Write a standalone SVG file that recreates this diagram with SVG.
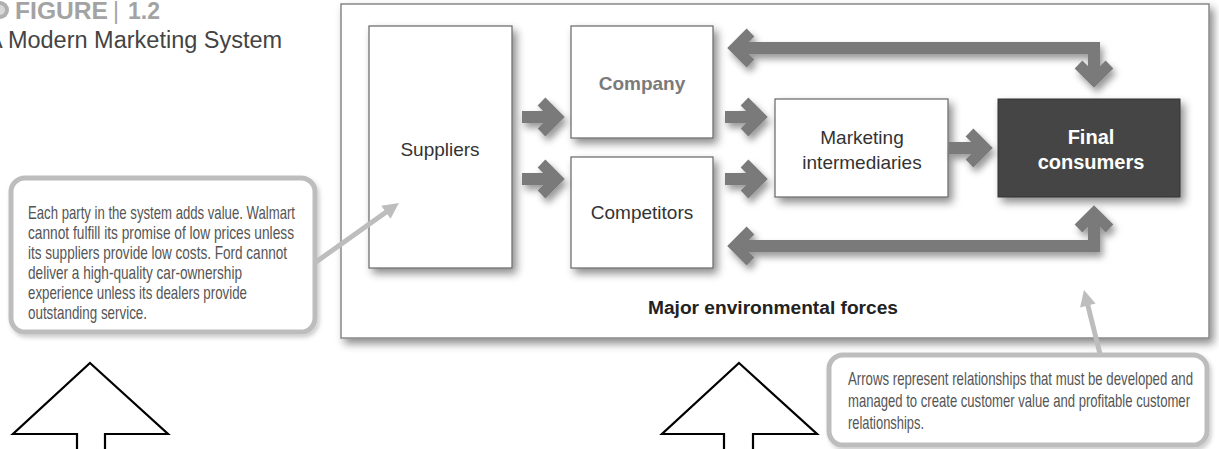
<svg xmlns="http://www.w3.org/2000/svg" width="1219" height="449" viewBox="0 0 1219 449">
<style>
.box{fill:#fff;stroke:#666;stroke-width:1.2}
.lbl{font-family:"Liberation Sans",Arial,sans-serif;font-size:19px;fill:#333;text-anchor:middle}
.lbl.co{fill:#7a7a7a;font-weight:bold}
.lbl.fc{fill:#fff;font-weight:bold;font-size:20px}
.bar{fill:none;stroke:#7a7a7a;stroke-width:12;stroke-linejoin:miter}
.note{font-family:"Liberation Sans",Arial,sans-serif;font-size:18.5px;fill:#555}
.call{fill:#fff;stroke:#bdbdbd;stroke-width:5}
.pointer{fill:none;stroke:#bdbdbd;stroke-width:5}
.big{fill:#fff;stroke:#000;stroke-width:2.2;stroke-linejoin:miter}
</style>
<defs>
<filter id="sh" x="-10%" y="-10%" width="130%" height="140%">
<feDropShadow dx="4" dy="5" stdDeviation="4" flood-color="#000" flood-opacity="0.45"/>
</filter>
<filter id="shA" x="-10%" y="-30%" width="130%" height="170%">
<feDropShadow dx="3" dy="5" stdDeviation="3.5" flood-color="#000" flood-opacity="0.4"/>
</filter>
<filter id="shL" x="-5%" y="-5%" width="115%" height="120%">
<feDropShadow dx="2" dy="3" stdDeviation="2" flood-color="#000" flood-opacity="0.2"/>
</filter>
<marker id="chev" viewBox="0 0 40 40" markerWidth="40" markerHeight="40" refX="24" refY="20" orient="auto-start-reverse" markerUnits="userSpaceOnUse" overflow="visible">
<path d="M8.5,4.5 L24,20 L8.5,35.5" fill="none" stroke="#7a7a7a" stroke-width="11" stroke-linejoin="miter"/>
</marker>
<marker id="tri" viewBox="0 0 20 16" markerWidth="20" markerHeight="16" refX="6" refY="8" orient="auto" markerUnits="userSpaceOnUse" overflow="visible">
<path d="M0,0 L16,8 L0,16 Z" fill="#bdbdbd"/>
</marker>
</defs>
<rect width="1219" height="449" fill="#fff"/>

<g id="title">
<circle cx="0" cy="10" r="9" fill="#b0b0b0"/>
<circle cx="0" cy="10" r="5" fill="#d8d8d8"/>
<text x="15" y="19" font-family="Liberation Sans,Arial,sans-serif" font-size="23" font-weight="bold" fill="#a3a3a3" textLength="93" lengthAdjust="spacingAndGlyphs">FIGURE</text>
<text x="113" y="19" font-family="Liberation Sans,Arial,sans-serif" font-size="23" fill="#a3a3a3">|</text>
<text x="128" y="19" font-family="Liberation Sans,Arial,sans-serif" font-size="23" font-weight="bold" fill="#a3a3a3">1.2</text>
<text x="-13" y="48" font-family="Liberation Sans,Arial,sans-serif" font-size="23.5" fill="#444">A Modern Marketing System</text>
</g>

<g id="environment">
<rect x="341" y="4" width="868" height="334" fill="#fff" stroke="#888" stroke-width="1.5" filter="url(#sh)"/>
<text x="773" y="314" font-family="Liberation Sans,Arial,sans-serif" font-size="18" font-weight="bold" fill="#222" text-anchor="middle" textLength="250" lengthAdjust="spacingAndGlyphs">Major environmental forces</text>
</g>

<g id="suppliers">
<rect class="box" x="369" y="26" width="143" height="242" filter="url(#sh)"/>
<text class="lbl" x="440" y="156">Suppliers</text>
</g>
<g id="company">
<rect class="box" x="571" y="26" width="142" height="112" filter="url(#sh)"/>
<text class="lbl co" x="642" y="90">Company</text>
</g>
<g id="competitors">
<rect class="box" x="571" y="157" width="142" height="111" filter="url(#sh)"/>
<text class="lbl" x="642" y="219">Competitors</text>
</g>
<g id="intermediaries">
<rect class="box" x="775" y="99" width="173" height="98" filter="url(#sh)"/>
<text class="lbl" x="862" y="144">Marketing</text>
<text class="lbl" x="862" y="169">intermediaries</text>
</g>
<g id="consumers">
<rect x="998" y="99" width="182" height="98" fill="#444" stroke="#333" filter="url(#sh)"/>
<text class="lbl fc" x="1091" y="144">Final</text>
<text class="lbl fc" x="1091" y="169">consumers</text>
</g>

<g id="connectors" filter="url(#shA)">
<path class="bar" d="M522,117 H557" marker-end="url(#chev)"/>
<path class="bar" d="M522,179 H557" marker-end="url(#chev)"/>
<path class="bar" d="M725,117 H760" marker-end="url(#chev)"/>
<path class="bar" d="M725,179 H760" marker-end="url(#chev)"/>
<path class="bar" d="M949,148 H985" marker-end="url(#chev)"/>
<path class="bar" d="M735,48 H1094 V80" marker-start="url(#chev)" marker-end="url(#chev)"/>
<path class="bar" d="M735,246 H1094 V213" marker-start="url(#chev)" marker-end="url(#chev)"/>
</g>

<g id="note-left">
<rect class="call" x="11" y="178" width="304" height="154" rx="14" filter="url(#shL)"/>
<text class="note" x="28" y="219" textLength="267" lengthAdjust="spacingAndGlyphs">Each party in the system adds value. Walmart</text>
<text class="note" x="28" y="239" textLength="266" lengthAdjust="spacingAndGlyphs">cannot fulfill its promise of low prices unless</text>
<text class="note" x="28" y="259" textLength="259" lengthAdjust="spacingAndGlyphs">its suppliers provide low costs. Ford cannot</text>
<text class="note" x="28" y="279" textLength="214" lengthAdjust="spacingAndGlyphs">deliver a high-quality car-ownership</text>
<text class="note" x="28" y="299" textLength="219" lengthAdjust="spacingAndGlyphs">experience unless its dealers provide</text>
<text class="note" x="28" y="319" textLength="119" lengthAdjust="spacingAndGlyphs">outstanding service.</text>
</g>

<g id="note-right">
<rect class="call" x="829" y="355" width="378" height="90" rx="14" filter="url(#shL)"/>
<text class="note" x="848" y="385" textLength="345" lengthAdjust="spacingAndGlyphs">Arrows represent relationships that must be developed and</text>
<text class="note" x="848" y="407" textLength="342" lengthAdjust="spacingAndGlyphs">managed to create customer value and profitable customer</text>
<text class="note" x="848" y="429" textLength="76" lengthAdjust="spacingAndGlyphs">relationships.</text>
</g>

<g id="pointers">
<path class="pointer" d="M316,262 L390.8,208.7" marker-end="url(#tri)"/>
<path class="pointer" d="M1100,354 L1086.4,299.7" marker-end="url(#tri)"/>
</g>

<g id="big-arrows">
<polygon class="big" points="90,363 168,434 105,434 105,452 77,452 77,434 13,434"/>
<polygon class="big" points="739,363 817,434 753,434 753,452 724,452 724,434 662,434"/>
</g>
</svg>
